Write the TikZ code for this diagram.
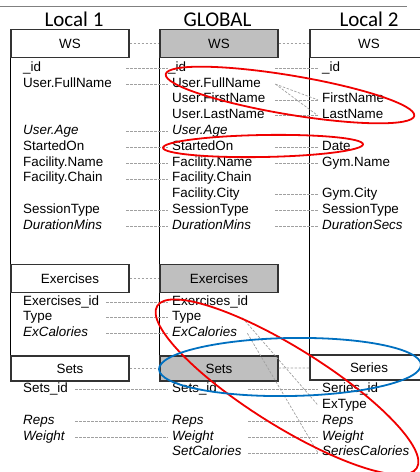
\documentclass[tikz,border=0pt]{standalone}
\usepackage{fontspec}
\setmainfont{Liberation Sans}
\newfontfamily\titlefont{Carlito}
\definecolor{boxgray}{RGB}{191,191,191}
\definecolor{conngray}{RGB}{160,160,160}
\definecolor{ellblue}{RGB}{0,112,192}
\definecolor{ellred}{RGB}{240,0,0}
\begin{document}
\begin{tikzpicture}[x=1pt,y=-1pt,
  fld/.style={anchor=west, inner xsep=4pt, inner ysep=0pt, text height=9pt, text depth=3pt,
    font=\fontsize{13.4}{16}\selectfont, align=left},
  tw/.style={text width=#1pt},
  itl/.style={font=\fontsize{13.4}{16}\selectfont\itshape},
  hdr/.style={draw=black!80, line width=1.1pt, minimum width=118pt, inner sep=0pt,
    font=\fontsize{13.4}{16}\selectfont, fill=white},
  ghdr/.style={hdr, fill=boxgray},
  ttl/.style={anchor=base, inner sep=0pt, font=\titlefont\fontsize{21}{24}\selectfont},
  colline/.style={draw=black, line width=1.3pt},
  conn/.style={draw=conngray, line width=0.7pt, dash pattern=on 2.5pt off 1.5pt},
  ell/.style={line width=1.8pt}
]
\useasboundingbox (0,0) rectangle (420,472);
\draw[gray, line width=0.8pt] (0,6) -- (407,6);

% titles
\node[ttl] (t1) at (74,26) {Local 1};
\node[ttl] (t2) at (217.5,26) {GLOBAL};
\node[ttl] (t3) at (369,26) {Local 2};

% header boxes
\node[hdr, minimum height=27.5pt] (Lws) at (70,43.5) {WS};
\node[ghdr, minimum height=27.5pt] (Gws) at (219,43.5) {WS};
\node[hdr, minimum height=27.5pt] (Rws) at (369,43.5) {WS};
\node[hdr, minimum height=28.5pt] (Lex) at (70,278.5) {Exercises};
\node[ghdr, minimum height=28.5pt] (Gex) at (219,278.5) {Exercises};
\node[hdr, minimum height=25pt] (Lsets) at (70,368.5) {Sets};
\node[ghdr, minimum height=25pt] (Gsets) at (219,368.5) {Sets};
\node[hdr, minimum height=25pt] (Rser) at (369,367.5) {Series};

% column lines
\draw[colline] (Lws.south west) -- (Lex.north west);
\draw[colline] (Lex.south west) -- (Lsets.north west);
\draw[colline] (Gws.south west) -- (Gex.north west);
\draw[colline] (Gex.south west) -- (Gsets.north west);
\draw[colline] (Rws.south west) -- (Rser.north west);

% Local 1 fields
\node[fld, tw=99] (L_id) at (19,68.3) {\_id};
\node[fld, tw=99] (L_fn) at (19,84.1) {User.FullName};
\node[fld, tw=99, itl] (L_age) at (19,131.5) {User.Age};
\node[fld, tw=99] (L_st) at (19,147.3) {StartedOn};
\node[fld, tw=99] (L_fname) at (19,163.1) {Facility.Name};
\node[fld, tw=99] (L_fchain) at (19,178.9) {Facility.Chain};
\node[fld, tw=99] (L_sess) at (19,210.5) {SessionType};
\node[fld, tw=99, itl] (L_dur) at (19,226.3) {DurationMins};
\node[fld, tw=79] (L_exid) at (19,302.3) {Exercises\_id};
\node[fld, tw=79] (L_type) at (19,317.8) {Type};
\node[fld, tw=79, itl] (L_excal) at (19,333.3) {ExCalories};
\node[fld, tw=48] (L_setid) at (19,389.3) {Sets\_id};
\node[fld, tw=48, itl] (L_reps) at (19,421.1) {Reps};
\node[fld, tw=48, itl] (L_weight) at (19,437) {Weight};

% Global fields
\node[fld, tw=99] (G_id) at (168,68.3) {\hspace{-4pt}\_id};
\node[fld, tw=99] (G_fn) at (168,84.1) {User.FullName};
\node[fld, tw=99] (G_first) at (168,99.9) {User.FirstName};
\node[fld, tw=99] (G_last) at (168,115.7) {User.LastName};
\node[fld, tw=99, itl] (G_age) at (168,131.5) {User.Age};
\node[fld, tw=99] (G_st) at (168,147.3) {StartedOn};
\node[fld, tw=99] (G_fname) at (168,163.1) {Facility.Name};
\node[fld, tw=99] (G_fchain) at (168,178.9) {Facility.Chain};
\node[fld, tw=99] (G_fcity) at (168,194.7) {Facility.City};
\node[fld, tw=99] (G_sess) at (168,210.5) {SessionType};
\node[fld, tw=99, itl] (G_dur) at (168,226.3) {DurationMins};
\node[fld, tw=79] (G_exid) at (168,302.3) {Exercises\_id};
\node[fld, tw=66] (G_type) at (168,317.8) {Type};
\node[fld, tw=71, itl] (G_excal) at (168,333.3) {ExCalories};
\node[fld, tw=72] (G_setid) at (168,389.3) {Sets\_id};
\node[fld, tw=72, itl] (G_reps) at (168,421.1) {Reps};
\node[fld, tw=72, itl] (G_weight) at (168,437) {Weight};
\node[fld, tw=72, itl] (G_setcal) at (168,452.9) {SetCalories};

% Local 2 fields
\node[fld] (R_id) at (318,68.3) {\_id};
\node[fld] (R_first) at (318,99.9) {FirstName};
\node[fld] (R_last) at (318,115.7) {LastName};
\node[fld] (R_date) at (318,147.3) {Date};
\node[fld] (R_gname) at (318,163.1) {Gym.Name};
\node[fld] (R_gcity) at (318,194.7) {Gym.City};
\node[fld] (R_sess) at (318,210.5) {SessionType};
\node[fld, itl] (R_dur) at (318,226.3) {DurationSecs};
\node[fld] (R_serid) at (318,389.3) {Series\_id};
\node[fld] (R_extype) at (318,405.2) {ExType};
\node[fld, itl] (R_reps) at (318,421.1) {Reps};
\node[fld, itl] (R_weight) at (318,437) {Weight};
\node[fld, itl] (R_sercal) at (318,452.9) {SeriesCalories};

% connectors Local 1 -> Global
\draw[conn] (Lws) -- (Gws);
\draw[conn] (Lex) -- (Gex);
\draw[conn] (Lsets) -- (Gsets);
\foreach \a/\b in {L_id/G_id, L_fn/G_fn, L_age/G_age, L_st/G_st, L_fname/G_fname,
  L_fchain/G_fchain, L_sess/G_sess, L_dur/G_dur, L_exid/G_exid, L_type/G_type,
  L_excal/G_excal, L_setid/G_setid, L_reps/G_reps, L_weight/G_weight}
  \draw[conn] (\a.east) -- (\b.west);

% connectors Global -> Local 2
\draw[conn] (Gws) -- (Rws);
\draw[conn] (Gsets) -- (Rser);
\foreach \a/\b in {G_id/R_id, G_first/R_first, G_last/R_last, G_st/R_date,
  G_fname/R_gname, G_fcity/R_gcity, G_sess/R_sess, G_dur/R_dur, G_setid/R_serid,
  G_reps/R_reps, G_weight/R_weight, G_setcal/R_sercal, G_fn/R_first, G_fn/R_last,
  G_type/R_extype, G_excal/R_sercal}
  \draw[conn] (\a.east) -- (\b.west);

% ellipses
\draw[ell, ellred, rotate around={-9.5:(290,95)}] (290,95) ellipse [x radius=126, y radius=19.5];
\draw[ell, ellred, rotate around={1:(263,146)}] (263,146) ellipse [x radius=100, y radius=11];
\draw[ell, ellred, rotate around={-32:(287,387)}] (287,387) ellipse [x radius=153, y radius=39];
\draw[ell, ellblue, rotate around={1:(290,367)}] (290,367) ellipse [x radius=131, y radius=29];
\end{tikzpicture}
\end{document}
